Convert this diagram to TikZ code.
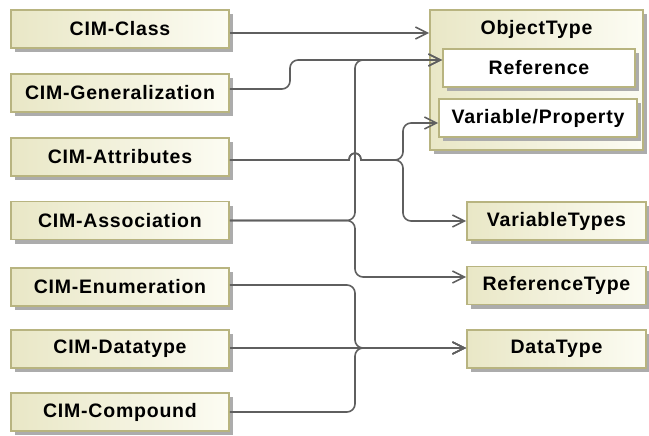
\documentclass[tikz,border=0pt]{standalone}
\usepackage{fontspec}
\setmainfont{Liberation Sans}
\newfontfamily\labelfont{Liberation Sans}[LetterSpace=4]
\usetikzlibrary{arrows.meta,shadows}
\definecolor{boxborder}{RGB}{184,180,128}
\definecolor{boxleft}{RGB}{233,231,198}
\definecolor{boxright}{RGB}{252,252,243}
\definecolor{shadowgray}{RGB}{172,172,172}
\definecolor{linegray}{RGB}{95,95,95}
\tikzset{
  box/.style={draw=boxborder, line width=1.6pt, minimum height=38pt, inner sep=0pt,
    font=\labelfont\bfseries\fontsize{19.5}{21}\selectfont,
    drop shadow={shadow xshift=4pt, shadow yshift=-4pt, fill=shadowgray, opacity=1}},
  shadedbox/.style={box, left color=boxleft, right color=boxright},
  leftbox/.style={shadedbox, minimum width=218pt},
  rightbox/.style={shadedbox, minimum width=179pt},
  innerbox/.style={box, fill=white},
  titletext/.style={font=\labelfont\bfseries\fontsize{19.5}{21}\selectfont, inner sep=0pt},
  conn/.style={draw=linegray, line width=1.6pt, rounded corners=8pt},
  arr/.style={-{Straight Barb[length=12pt,width=12pt,line width=1.6pt]}}
}
\begin{document}
\begin{tikzpicture}[x=1pt,y=1pt]
\useasboundingbox (0,0) rectangle (649,-436);
% left boxes
\node[leftbox] (class) at (120,-29) {CIM-Class};
\node[leftbox] (gen) at (120,-93) {CIM-Generalization};
\node[leftbox] (attr) at (120,-157) {CIM-Attributes};
\node[leftbox] (assoc) at (120,-220.5) {CIM-Association};
\node[leftbox] (enum) at (120,-287) {CIM-Enumeration};
\node[leftbox] (dtype) at (120,-349) {CIM-Datatype};
\node[leftbox] (comp) at (120,-412) {CIM-Compound};
% ObjectType container
\node[shadedbox, minimum width=213pt, minimum height=140pt] (objtype) at (536.5,-80) {};
\node[titletext] (objtitle) at (536.5,-29) {ObjectType};
\node[innerbox, minimum width=192pt] (ref) at (539,-68) {Reference};
\node[innerbox, minimum width=198pt] (varprop) at (538,-118) {Variable/Property};
% right boxes
\node[rightbox] (vtypes) at (556.5,-221) {VariableTypes};
\node[rightbox] (rtype) at (556.5,-285.5) {ReferenceType};
\node[rightbox] (datatype) at (556.5,-349) {DataType};
% connectors
\draw[conn,arr] ([yshift=-4pt]class.east) -- ([yshift=-4pt]class.east -| objtype.west);
\draw[conn,arr] ([yshift=4pt]gen.east) -- (290,-89) -- (290,-60) -- ([yshift=8pt]ref.west);
\draw[conn,arr] (assoc.east) -- (355,-220.5) -- (355,-60) -- ([yshift=8pt]ref.west);
\draw[conn,arr] (assoc.east) -- (355,-220.5) -- (355,-277) -- ([yshift=8.5pt]rtype.west);
\draw[conn,arr] ([yshift=-3pt]attr.east) [sharp corners] -- (349,-160) .. controls (349,-151) and (361,-151) .. (361,-160) -- (380,-160) [rounded corners=8pt] -- (403,-160) -- (403,-123) -- ([yshift=-5pt]varprop.west);
\draw[conn,arr] ([yshift=-3pt]attr.east) [sharp corners] -- (349,-160) .. controls (349,-151) and (361,-151) .. (361,-160) -- (380,-160) [rounded corners=8pt] -- (403,-160) -- (403,-221) -- (vtypes.west);
\draw[conn,arr] ([yshift=2pt]enum.east) -- (355,-285) -- (355,-348) -- ([yshift=1pt]datatype.west);
\draw[conn,arr] ([yshift=1pt]dtype.east) -- ([yshift=1pt]datatype.west);
\draw[conn,arr] (comp.east) -- (355,-412) -- (355,-348) -- ([yshift=1pt]datatype.west);
\end{tikzpicture}
\end{document}
